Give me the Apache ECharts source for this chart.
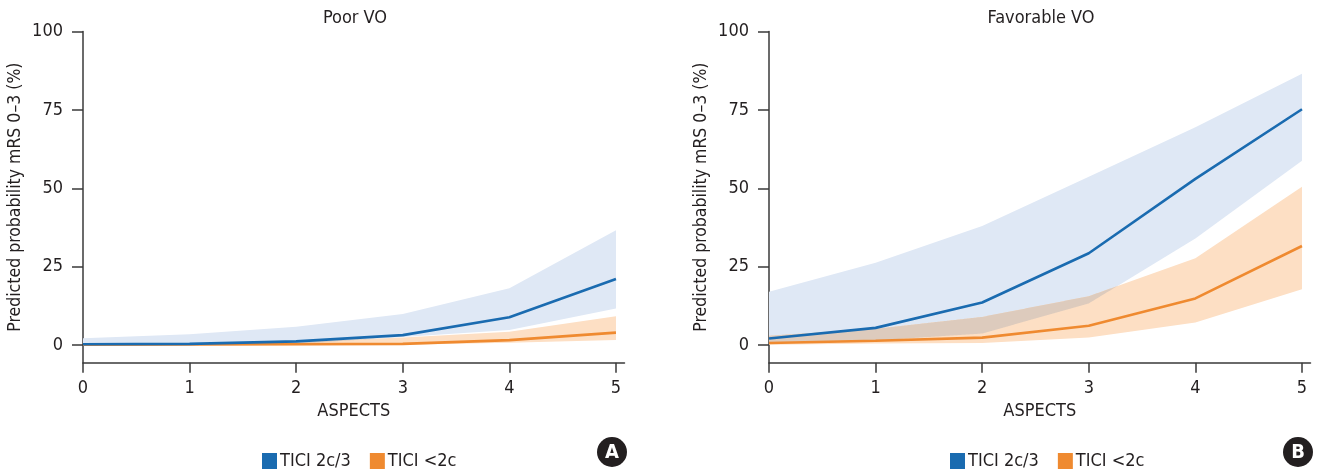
<!DOCTYPE html>
<html>
<head>
<meta charset="utf-8">
<script src="https://cdn.jsdelivr.net/npm/echarts@6/dist/echarts.min.js"></script>
<style>
html,body{margin:0;padding:0;background:#fff;}
#chart{width:1319px;height:474px;}
</style>
</head>
<body>
<div id="chart"></div>
<script>
// ---------- data ----------
const aspects = [0, 1, 2, 3, 4, 5];
const xTicks = [0, 1, 2, 3, 4, 5];
const yTicks = [0, 25, 50, 75, 100];
const panelTitles = ['Poor VO', 'Favorable VO'];
const panelLetters = ['A', 'B'];
const seriesNames = ['TICI 2c/3', 'TICI <2c'];

// Poor VO
const poorGood = [0.3, 0.4, 1.2, 3.2, 8.9, 21.1];
const poorGoodLo = [0.0, 0.1, 0.4, 2.6, 4.8, 11.7];
const poorGoodHi = [2.2, 3.5, 5.9, 9.9, 18.1, 36.6];
const poorBad = [0.1, 0.2, 0.3, 0.4, 1.6, 4.0];
const poorBadLo = [0.0, 0.0, 0.0, 0.1, 0.8, 1.6];
const poorBadHi = [0.3, 0.6, 1.1, 2.4, 4.3, 9.2];

// Favorable VO
const favGood = [2.1, 5.5, 13.6, 29.3, 53.0, 75.2];
const favGoodLo = [0.5, 1.5, 3.7, 13.3, 34.0, 58.8];
const favGoodHi = [17.0, 26.3, 38.0, 53.7, 69.5, 86.5];
const favBad = [0.7, 1.4, 2.4, 6.2, 14.9, 31.6];
const favBadLo = [0.1, 0.5, 0.7, 2.4, 7.2, 17.8];
const favBadHi = [3.0, 5.2, 9.0, 15.6, 27.7, 50.5];

// ---------- styles ----------
const FONT = "'Liberation Sans Narrow', 'DejaVu Sans Condensed', 'Roboto', sans-serif";
const TXT = '#231f20';
const AXIS = '#3a3a3a';
const BLUE = '#1a6bb0';
const ORANGE = '#ef8a30';
const BLUE_BAND = '#dfe8f5';
const ORANGE_BAND = '#fddfc4';
const OVERLAP_BAND = '#ddcbbd';

function bandData(lo, hi) { return aspects.map((x, i) => [x, lo[i], hi[i]]); }
function lineData(v) { return aspects.map((x, i) => [x, v[i]]); }
function overlapData(lo1, hi1, lo2, hi2) { return aspects.map((x, i) => [x, lo1[i], hi1[i], lo2[i], hi2[i]]); }

function bandRenderer(color) {
  return function (params, api) {
    if (params.dataIndexInside !== 0) return null;
    const n = params.dataInsideLength;
    const upper = [], lower = [];
    for (let i = 0; i < n; i++) {
      const x = api.value(0, i);
      upper.push(api.coord([x, api.value(2, i)]));
      lower.push(api.coord([x, api.value(1, i)]));
    }
    return {
      type: 'polygon', silent: true,
      shape: { points: upper.concat(lower.reverse()) },
      style: { fill: color }
    };
  };
}

// overlap of two bands (region where both confidence bands cover)
function overlapRenderer(color) {
  return function (params, api) {
    if (params.dataIndexInside !== 0) return null;
    const n = params.dataInsideLength;
    const S = 80;
    const runs = [];
    let cur = null;
    const lerp = (a, b, t) => a + (b - a) * t;
    for (let i = 0; i < n - 1; i++) {
      for (let s = (i === 0 ? 0 : 1); s <= S; s++) {
        const t = s / S;
        const x = lerp(api.value(0, i), api.value(0, i + 1), t);
        const lo1 = lerp(api.value(1, i), api.value(1, i + 1), t);
        const hi1 = lerp(api.value(2, i), api.value(2, i + 1), t);
        const lo2 = lerp(api.value(3, i), api.value(3, i + 1), t);
        const hi2 = lerp(api.value(4, i), api.value(4, i + 1), t);
        const up = Math.min(hi1, hi2), lo = Math.max(lo1, lo2);
        if (up > lo) {
          if (!cur) { cur = { u: [], l: [] }; runs.push(cur); }
          cur.u.push(api.coord([x, up]));
          cur.l.push(api.coord([x, lo]));
        } else {
          if (cur) {
            const m = api.coord([x, (up + lo) / 2]);
            cur.u.push(m); cur.l.push(m);
          }
          cur = null;
        }
      }
    }
    return {
      type: 'group', silent: true,
      children: runs.map(r => ({
        type: 'polygon', silent: true,
        shape: { points: r.u.concat(r.l.slice().reverse()) },
        style: { fill: color }
      }))
    };
  };
}

const grids = [
  { left: 83, top: 31.5, width: 541.5, height: 331.2 },
  { left: 769, top: 31.5, width: 541.5, height: 331.2 }
];

function xAxisCfg(idx) {
  return {
    gridIndex: idx, type: 'value', min: 0, max: 5.08,
    name: 'ASPECTS', nameLocation: 'middle', nameGap: 38,
    nameTextStyle: { fontFamily: FONT, fontSize: 18, color: TXT },
    axisLine: { show: true, onZero: false, lineStyle: { color: AXIS, width: 1.5 } },
    axisTick: { show: true, length: 10, customValues: xTicks, lineStyle: { color: AXIS, width: 1.5 } },
    axisLabel: { customValues: xTicks, margin: 17, fontFamily: FONT, fontSize: 18, color: TXT },
    splitLine: { show: false }
  };
}
function yAxisCfg(idx) {
  return {
    gridIndex: idx, type: 'value', min: -5.6, max: 100,
    name: 'Predicted probability mRS 0\u20133 (%)', nameLocation: 'middle', nameGap: 59,
    nameTextStyle: { fontFamily: FONT, fontSize: 17.5, color: TXT },
    axisLine: { show: true, onZero: false, lineStyle: { color: AXIS, width: 1.5 } },
    axisTick: { show: true, length: 11, customValues: yTicks, lineStyle: { color: AXIS, width: 1.5 } },
    axisLabel: { customValues: yTicks, margin: 20, fontFamily: FONT, fontSize: 18, color: TXT },
    splitLine: { show: false }
  };
}

const panels = [
  { good: poorGood, goodLo: poorGoodLo, goodHi: poorGoodHi, bad: poorBad, badLo: poorBadLo, badHi: poorBadHi },
  { good: favGood, goodLo: favGoodLo, goodHi: favGoodHi, bad: favBad, badLo: favBadLo, badHi: favBadHi }
];

const series = [];
panels.forEach((p, k) => {
  series.push({
    type: 'custom', xAxisIndex: k, yAxisIndex: k, silent: true, z: 1,
    renderItem: bandRenderer(BLUE_BAND),
    encode: { x: 0, y: [1, 2] },
    data: bandData(p.goodLo, p.goodHi)
  });
  series.push({
    type: 'custom', xAxisIndex: k, yAxisIndex: k, silent: true, z: 2,
    renderItem: bandRenderer(ORANGE_BAND),
    encode: { x: 0, y: [1, 2] },
    data: bandData(p.badLo, p.badHi)
  });
  series.push({
    type: 'custom', xAxisIndex: k, yAxisIndex: k, silent: true, z: 3,
    renderItem: overlapRenderer(OVERLAP_BAND),
    encode: { x: 0, y: [1, 2, 3, 4] },
    data: overlapData(p.goodLo, p.goodHi, p.badLo, p.badHi)
  });
  series.push({
    name: seriesNames[1], type: 'line', xAxisIndex: k, yAxisIndex: k, z: 4,
    showSymbol: false, symbol: 'none', silent: true, color: ORANGE,
    lineStyle: { color: ORANGE, width: 2.6 },
    data: lineData(p.bad)
  });
  series.push({
    name: seriesNames[0], type: 'line', xAxisIndex: k, yAxisIndex: k, z: 5,
    showSymbol: false, symbol: 'none', silent: true, color: BLUE,
    lineStyle: { color: BLUE, width: 2.6 },
    data: lineData(p.good)
  });
});

const legendLefts = [257, 945];
const legends = legendLefts.map(l => ({
  left: l, top: 447, orient: 'horizontal', itemWidth: 15, itemHeight: 16, itemGap: 19,
  selectedMode: false,
  textStyle: { fontFamily: FONT, fontSize: 18, color: TXT, padding: [0, 0, 0, -2] },
  data: [
    { name: seriesNames[0], icon: 'rect', itemStyle: { color: BLUE } },
    { name: seriesNames[1], icon: 'rect', itemStyle: { color: ORANGE } }
  ]
}));

const titleCenters = [355, 1041];
const letterCenters = [612, 1298];
const graphic = [];
panelTitles.forEach((t, k) => {
  graphic.push({
    type: 'text', x: titleCenters[k], y: 18, silent: true,
    style: { text: t, align: 'center', verticalAlign: 'middle', font: "18px " + FONT, fill: TXT }
  });
  graphic.push({
    type: 'circle', silent: true,
    shape: { cx: letterCenters[k], cy: 452, r: 15 },
    style: { fill: '#231f20' }
  });
  graphic.push({
    type: 'text', x: letterCenters[k], y: 453, silent: true,
    style: { text: panelLetters[k], align: 'center', verticalAlign: 'middle', font: "bold 20px " + FONT, fill: '#fff' }
  });
});

const chart = echarts.init(document.getElementById('chart'), null, { renderer: 'canvas' });
chart.setOption({
  animation: false,
  backgroundColor: '#ffffff',
  grid: grids,
  xAxis: [xAxisCfg(0), xAxisCfg(1)],
  yAxis: [yAxisCfg(0), yAxisCfg(1)],
  legend: legends,
  series: series,
  graphic: graphic
});
</script>
</body>
</html>
